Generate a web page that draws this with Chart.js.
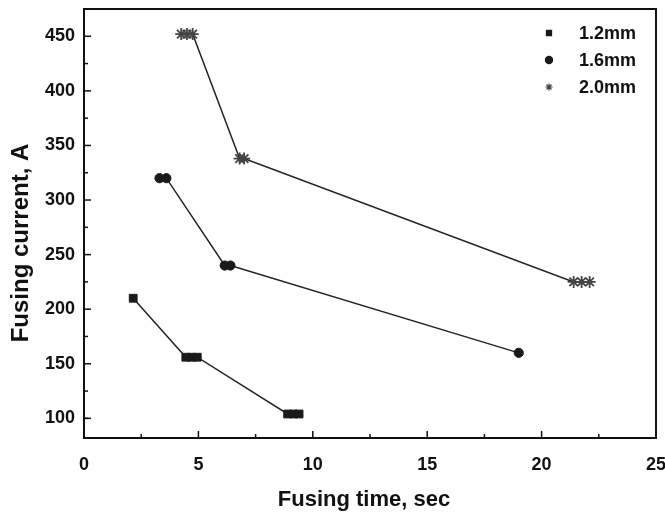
<!DOCTYPE html>
<html>
<head>
<meta charset="utf-8">
<script src="https://cdn.jsdelivr.net/npm/chart.js@4/dist/chart.umd.min.js"></script>
<style>
  html, body { margin: 0; padding: 0; background: #fff; }
  #wrap { width: 665px; height: 517px; position: relative; }
</style>
</head>
<body>
<div id="wrap"><canvas id="c" width="665" height="517"></canvas></div>
<script>
// ---- data ----
const seriesLabels = ["1.2mm", "1.6mm", "2.0mm"];
const time12 = [2.15, 4.45, 4.7, 4.95, 8.9, 9.15, 9.4];
const current12 = [210, 156, 156, 156, 104, 104, 104];
const time16 = [3.3, 3.6, 6.15, 6.4, 19.0];
const current16 = [320, 320, 240, 240, 160];
const time20 = [4.25, 4.5, 4.75, 6.8, 7.0, 21.4, 21.75, 22.1];
const current20 = [452, 452, 452, 338, 338, 225, 225, 225];
const xTickValues = [0, 5, 10, 15, 20, 25];
const yTickValues = [100, 150, 200, 250, 300, 350, 400, 450];
const xTitle = "Fusing time, sec";
const yTitle = "Fusing current, A";

function pts(xs, ys) { return xs.map((x, i) => ({ x: x, y: ys[i] })); }

const FONT = "'Liberation Sans', Arial, sans-serif";
const INK = "#111";

const framePlugin = {
  id: 'frame',
  afterDraw(chart) {
    const ctx = chart.ctx, a = chart.chartArea;
    const xs = chart.scales.x, ys = chart.scales.y;
    ctx.save();
    ctx.strokeStyle = INK;
    ctx.lineWidth = 2;
    ctx.strokeRect(a.left, a.top, a.right - a.left, a.bottom - a.top);
    ctx.lineWidth = 1.5;
    // x ticks (inward)
    for (let i = 0; i < xTickValues.length; i++) {
      const v = xTickValues[i];
      let px = xs.getPixelForValue(v);
      ctx.beginPath(); ctx.moveTo(px, a.bottom); ctx.lineTo(px, a.bottom - 7); ctx.stroke();
      if (i < xTickValues.length - 1) {
        px = xs.getPixelForValue((v + xTickValues[i + 1]) / 2);
        ctx.beginPath(); ctx.moveTo(px, a.bottom); ctx.lineTo(px, a.bottom - 4); ctx.stroke();
      }
    }
    // y ticks (inward)
    const yAll = [yTickValues[0] - 25].concat(yTickValues);
    for (let i = 0; i < yAll.length; i++) {
      const v = yAll[i];
      if (v >= ys.min) {
        const py = ys.getPixelForValue(v);
        ctx.beginPath(); ctx.moveTo(a.left, py); ctx.lineTo(a.left + 7, py); ctx.stroke();
      }
      const m = v + 25;
      if (m <= ys.max) {
        const py = ys.getPixelForValue(m);
        ctx.beginPath(); ctx.moveTo(a.left, py); ctx.lineTo(a.left + 4, py); ctx.stroke();
      }
    }
    // titles
    ctx.fillStyle = INK;
    ctx.font = "bold 22px " + FONT;
    ctx.textAlign = 'center';
    ctx.textBaseline = 'middle';
    ctx.fillText(xTitle, 364, 500);
    ctx.save();
    ctx.translate(21, 243);
    ctx.rotate(-Math.PI / 2);
    ctx.font = "bold 24px " + FONT;
    ctx.fillText(yTitle, 0, 0);
    ctx.restore();
    // legend
    const rows = [33, 60, 87];
    chart.data.datasets.forEach((ds, i) => {
      ctx.save();
      ctx.fillStyle = ds.pointBackgroundColor;
      ctx.strokeStyle = ds.pointBorderColor;
      ctx.lineWidth = 1.2;
      Chart.helpers.drawPoint(ctx, { pointStyle: ds.pointStyle, radius: 3.6, borderWidth: 1.2, rotation: 0 }, 549, rows[i]);
      ctx.restore();
      ctx.fillStyle = INK;
      ctx.font = "bold 18px " + FONT;
      ctx.textAlign = 'left';
      ctx.textBaseline = 'middle';
      ctx.fillText(ds.label, 579, rows[i] + 1);
    });
    ctx.restore();
  }
};

function ds(label, data, style, radius, fill, border, bw) {
  return {
    label: label,
    data: data,
    showLine: true,
    borderColor: '#222',
    borderWidth: 1.5,
    pointStyle: style,
    pointRadius: radius,
    pointHoverRadius: radius,
    pointBackgroundColor: fill,
    pointBorderColor: border,
    pointBorderWidth: bw,
    tension: 0
  };
}

new Chart(document.getElementById('c'), {
  type: 'scatter',
  data: {
    datasets: [
      ds(seriesLabels[0], pts(time12, current12), 'rect', 5.5, '#1a1a1a', '#1a1a1a', 1),
      ds(seriesLabels[1], pts(time16, current16), 'circle', 4.6, '#1a1a1a', '#1a1a1a', 1),
      ds(seriesLabels[2], pts(time20, current20), 'star', 6, '#444', '#444', 1.8)
    ]
  },
  options: {
    responsive: false,
    animation: false,
    layout: { padding: { left: 0, top: 9, right: 9, bottom: 0 } },
    plugins: { legend: { display: false }, tooltip: { enabled: false } },
    scales: {
      x: {
        type: 'linear',
        min: 0, max: 25,
        grid: { display: false, drawTicks: false },
        border: { display: false },
        afterBuildTicks: s => { s.ticks = xTickValues.map(v => ({ value: v })); },
        afterFit: s => { s.height = 79; s.paddingLeft = 0; s.paddingRight = 0; },
        ticks: { color: INK, font: { family: FONT, size: 18, weight: 'bold' }, padding: 16, maxRotation: 0 }
      },
      y: {
        type: 'linear',
        min: 82, max: 475,
        grid: { display: false, drawTicks: false },
        border: { display: false },
        afterBuildTicks: s => { s.ticks = yTickValues.map(v => ({ value: v })); },
        afterFit: s => { s.width = 84; s.paddingTop = 0; s.paddingBottom = 0; },
        ticks: { color: INK, font: { family: FONT, size: 18, weight: 'bold' }, padding: 9 }
      }
    }
  },
  plugins: [framePlugin]
});
</script>
</body>
</html>
